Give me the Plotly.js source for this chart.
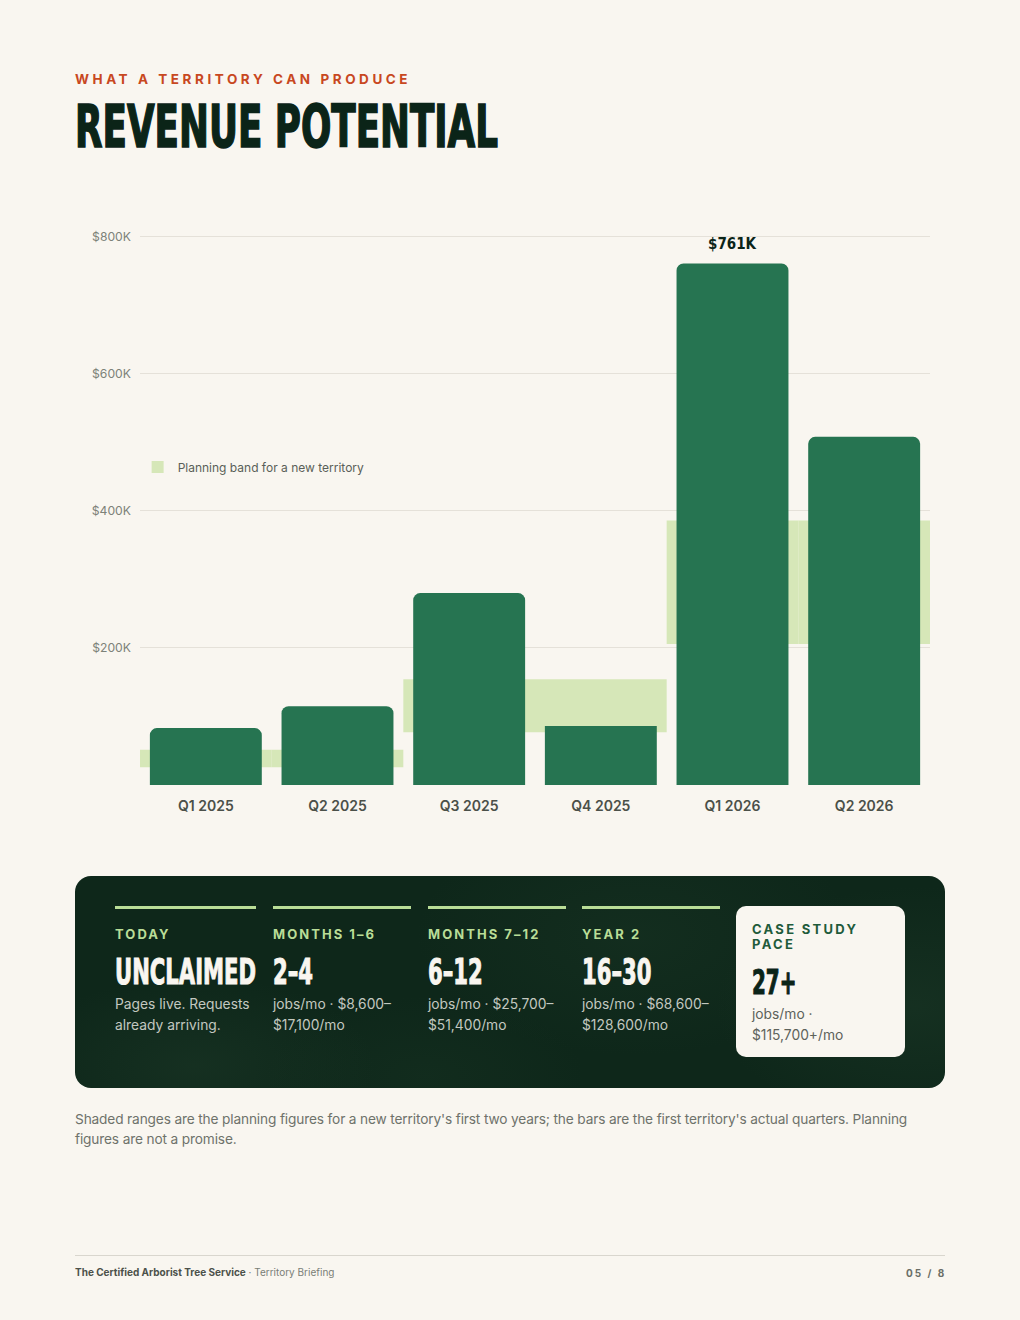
<!DOCTYPE html>
<html>
<head>
<meta charset="utf-8">
<script src="https://cdn.plot.ly/plotly-3.0.1.min.js"></script>
<style>
  html, body { margin:0; padding:0; }
  body { width:1020px; height:1320px; background:#f9f6f0; position:relative; overflow:hidden; font-family:Inter, "Noto Sans", sans-serif; }
  .abs { position:absolute; }
  .kicker { left:75px; top:71px; font-size:13.5px; font-weight:700; letter-spacing:3.55px; color:#c8481f; white-space:nowrap; }
  .cond { font-family:"DejaVu Sans Condensed","DejaVu Sans",sans-serif; font-stretch:condensed; font-weight:700; white-space:nowrap; transform-origin:0 0; display:inline-block; }
  .title { font-size:58px; line-height:58px; color:#0b2418; -webkit-text-stroke:1.6px #0b2418; }
  #chart { left:0; top:200px; width:1020px; height:640px; }
  .panel { left:75px; top:876px; width:870px; height:212px; border-radius:16px; overflow:hidden;
    background:
      radial-gradient(ellipse 180px 90px at 120px 190px, rgba(60,95,70,0.16), rgba(0,0,0,0)),
      radial-gradient(ellipse 220px 120px at 560px 60px, rgba(50,85,60,0.14), rgba(0,0,0,0)),
      radial-gradient(ellipse 200px 120px at 840px 130px, rgba(55,90,65,0.18), rgba(0,0,0,0)),
      radial-gradient(ellipse 160px 80px at 350px 200px, rgba(45,80,55,0.12), rgba(0,0,0,0)),
      #0e271a; }
  .bar { height:3px; background:#b9dd97; }
  .lab { position:absolute; top:50px; font-size:13px; font-weight:700; letter-spacing:2.05px; color:#b9dd97; white-space:nowrap; }
  .big { position:absolute; top:79px; font-size:35px; line-height:35px; color:#f9f6f0; -webkit-text-stroke:1px #f9f6f0; }
  .desc { position:absolute; top:118px; font-size:13.8px; line-height:21px; color:#c3c8c0; white-space:nowrap; }
  .card { left:661px; top:30px; width:169px; height:151px; background:#f9f6f0; border-radius:10px; position:absolute; }
  .card .lab2 { position:absolute; left:16px; top:16px; font-size:13px; line-height:15px; font-weight:700; letter-spacing:2.3px; color:#1f5b3b; white-space:nowrap; }
  .card .big2 { position:absolute; left:16px; top:60px; font-size:33px; line-height:33px; color:#0b2418; -webkit-text-stroke:1px #0b2418; }
  .card .desc2 { position:absolute; left:16px; top:98px; font-size:13.8px; line-height:21px; color:#5d625b; white-space:nowrap; }
  .note { left:75px; top:1109px; width:870px; font-size:13.7px; letter-spacing:-0.15px; line-height:20px; color:#6e726b; }
  .rule { left:75px; top:1255px; width:870px; height:1px; background:#d9d6ce; }
  .foot { left:75px; top:1266px; font-size:10px; color:#7a7e77; white-space:nowrap; }
  .foot b { color:#4c514a; font-weight:700; }
  .page { left:906px; top:1267px; font-size:10px; font-weight:700; letter-spacing:2px; color:#6a6e67; white-space:nowrap; }
</style>
</head>
<body>
<div class="abs kicker">WHAT A TERRITORY CAN PRODUCE</div>
<span id="title" class="cond title" style="position:absolute;left:75px;top:98px;">REVENUE POTENTIAL</span>
<div id="chart" class="abs"></div>

<div class="abs panel" id="panel"></div>

<div class="abs note" id="note"></div>
<div class="abs rule"></div>
<div class="abs foot"><b>The Certified Arborist Tree Service</b> · Territory Briefing</div>
<div class="abs page">05 / 8</div>

<script>
// ---- chart data ----
var quarters = ["Q1 2025", "Q2 2025", "Q3 2025", "Q4 2025", "Q1 2026", "Q2 2026"];
var revenue = [83000, 115000, 280000, 86000, 761000, 508000];
var revenueLabels = ["", "", "", "", "$761K", ""];
var bandLow = [25800, 25800, 77100, 77100, 205800, 205800];
var bandHigh = [51300, 51300, 154200, 154200, 385800, 385800];
var yTickVals = [200000, 400000, 600000, 800000];
var yTickText = ["$200K", "$400K", "$600K", "$800K"];
var bandName = "Planning band for a new territory";

// ---- panel data ----
var stageLabels = ["TODAY", "MONTHS 1–6", "MONTHS 7–12", "YEAR 2"];
var stageValues = ["UNCLAIMED", "2–4", "6–12", "16–30"];
var stageDesc = [["Pages live. Requests", "already arriving."], ["jobs/mo · $8,600–", "$17,100/mo"], ["jobs/mo · $25,700–", "$51,400/mo"], ["jobs/mo · $68,600–", "$128,600/mo"]];
var caseLabel = ["CASE STUDY", "PACE"];
var caseValue = "27+";
var caseDesc = ["jobs/mo ·", "$115,700+/mo"];
var footnote = "Shaded ranges are the planning figures for a new territory's first two years; the bars are the first territory's actual quarters. Planning figures are not a promise.";

var bandSpan = bandHigh.map(function (h, i) { return h - bandLow[i]; });

var traces = [
  { type: "bar", name: bandName, x: quarters, y: bandSpan, base: bandLow, width: 1,
    marker: { color: "#d6e7b8", cornerradius: 0 }, hoverinfo: "skip", showlegend: true },
  { type: "bar", name: "Actual", x: quarters, y: revenue, width: 0.85,
    marker: { color: "#267451", cornerradius: 7 }, hoverinfo: "skip", showlegend: false }
];

var annotations = [];
revenueLabels.forEach(function (t, i) {
  if (t) annotations.push({ x: quarters[i], y: revenue[i], text: t, showarrow: false, yanchor: "bottom", yshift: 8,
    font: { family: "DejaVu Sans Condensed, DejaVu Sans", size: 15, color: "#0b2418", weight: 700 } });
});

var layout = {
  width: 1020, height: 640,
  margin: { l: 140, r: 90, t: 34, b: 55 },
  paper_bgcolor: "rgba(0,0,0,0)", plot_bgcolor: "rgba(0,0,0,0)",
  barmode: "overlay",
  showlegend: true,
  legend: { x: -0.003, xanchor: "left", y: 0.577, yanchor: "middle", bgcolor: "rgba(0,0,0,0)",
    font: { family: "Inter", size: 12, color: "#5a5f58" } },
  xaxis: { type: "category", range: [-0.5, 5.5], showgrid: false, zeroline: false, showline: false, ticks: "",
    ticklabelstandoff: 11, tickfont: { family: "Inter", size: 14, color: "#4b5049", weight: 600 }, fixedrange: true },
  yaxis: { range: [0, 804000], tickvals: yTickVals, ticktext: yTickText, showgrid: true, gridcolor: "#e5e1d9", gridwidth: 1,
    zeroline: false, showline: false, ticks: "", ticklabelstandoff: 8,
    tickfont: { family: "Inter", size: 12.2, color: "#7d8279" }, fixedrange: true },
  annotations: annotations,
  font: { family: "Inter" }
};

Plotly.newPlot("chart", traces, layout, { displayModeBar: false, staticPlot: true });

// ---- build panel ----
var panel = document.getElementById("panel");
var colX = [40, 198, 353, 507];
var colW = [141, 138, 138, 138];
stageLabels.forEach(function (lab, i) {
  var bar = document.createElement("div");
  bar.className = "bar"; bar.style.position = "absolute";
  bar.style.left = colX[i] + "px"; bar.style.top = "30px"; bar.style.width = colW[i] + "px";
  panel.appendChild(bar);
  var l = document.createElement("div");
  l.className = "lab"; l.style.left = colX[i] + "px"; l.textContent = lab; panel.appendChild(l);
  var b = document.createElement("span");
  b.className = "cond big"; b.style.left = colX[i] + "px"; b.textContent = stageValues[i]; panel.appendChild(b);
  var d = document.createElement("div");
  d.className = "desc"; d.style.left = colX[i] + "px"; d.innerHTML = stageDesc[i].join("<br>"); panel.appendChild(d);
});
var card = document.createElement("div");
card.className = "card";
card.innerHTML = '<div class="lab2">' + caseLabel.join("<br>") + '</div><span class="cond big2">' + caseValue +
  '</span><div class="desc2">' + caseDesc.join("<br>") + '</div>';
panel.appendChild(card);
document.getElementById("note").textContent = footnote;

// condense heavy display text to the target widths
function fit(el, target) {
  var w = el.getBoundingClientRect().width;
  var s = target / w;
  el.style.transform = "scaleX(" + s + ")";
  return s;
}
fit(document.getElementById("title"), 423);
var bigs = panel.querySelectorAll(".big");
var s2 = fit(bigs[0], 141);
for (var i = 1; i < bigs.length; i++) bigs[i].style.transform = "scaleX(" + s2 + ")";
card.querySelector(".big2").style.transform = "scaleX(" + s2 + ")";
</script>
</body>
</html>
